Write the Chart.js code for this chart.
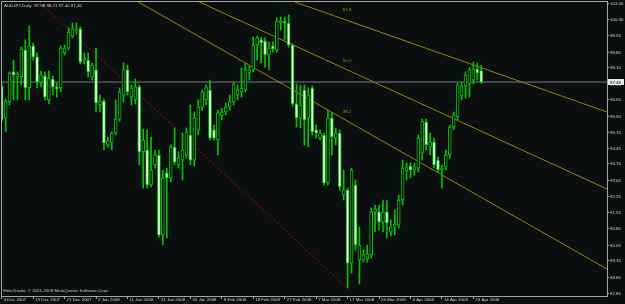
<!DOCTYPE html>
<html><head><meta charset="utf-8">
<script src="https://cdn.jsdelivr.net/npm/chart.js@4/dist/chart.umd.min.js"></script>
<style>html,body{margin:0;padding:0;background:#0b0f0f;overflow:hidden}canvas{display:block}</style>
</head><body>
<canvas id="c" width="625" height="304"></canvas>
<script>
const symbol = 'AUDJPY,Daily';
const copyright = 'MetaTrader, \u00A9 2001-2008 MetaQuotes Software Corp.';

const opens = [97.28,95.83,96.56,97.92,97.69,97.69,98.91,97.19,99.10,98.60,
97.46,97.73,96.65,97.60,97.24,97.19,98.78,99.00,99.55,99.82,
99.87,98.46,98.46,97.69,98.01,96.42,96.60,94.61,94.70,95.15,
95.78,96.87,98.01,96.78,96.65,97.24,94.29,94.38,92.79,93.70,
94.15,90.52,93.34,93.11,94.51,93.70,93.92,94.15,95.06,93.92,
95.29,96.33,96.65,97.10,95.29,94.83,95.92,96.10,96.33,96.56,
96.87,97.01,97.10,97.87,98.01,99.14,99.37,99.32,98.69,99.10,
98.91,100.14,100.23,100.14,99.14,96.47,95.83,97.10,95.83,97.19,
95.29,94.92,95.06,92.88,95.83,94.92,95.15,92.34,92.56,89.25,
92.79,89.39,89.39,89.44,89.62,91.57,91.57,91.11,91.57,90.66,
90.89,90.98,92.11,93.43,93.65,93.47,93.56,94.24,95.65,94.51,
94.74,93.92,93.47,93.61,94.15,95.42,95.88,96.83,97.28,97.37,
97.55,98.05,97.98];
const highs = [97.37,96.69,97.92,98.46,97.92,99.05,99.37,100.00,99.23,98.78,
97.96,97.92,97.96,97.73,97.42,99.10,99.14,99.91,100.14,100.14,
99.96,98.78,98.78,98.32,99.00,96.87,96.69,94.97,95.20,96.65,
97.19,98.32,98.23,97.33,97.60,97.33,95.33,95.29,94.97,94.38,
94.38,93.47,93.56,94.61,95.38,94.29,95.15,95.38,96.42,96.10,
96.65,97.10,97.33,97.55,95.51,96.19,96.28,96.51,96.87,97.46,
97.33,98.10,98.32,98.19,99.50,99.55,99.50,99.46,99.28,99.28,
100.36,100.41,100.41,100.50,99.19,97.37,97.33,97.33,97.19,97.28,
95.51,95.29,95.15,96.19,96.06,95.38,95.29,93.47,92.65,93.56,
93.02,90.89,89.84,90.07,91.75,91.88,91.88,92.11,92.11,91.20,
91.66,92.34,93.92,93.79,93.79,93.79,95.06,95.78,95.78,95.15,
94.92,94.06,93.70,94.38,95.51,96.10,97.42,97.46,97.92,98.10,
98.37,98.32,98.21];
const lows = [95.65,95.20,96.42,96.65,96.65,97.33,96.65,96.65,98.46,97.19,
97.24,96.65,96.47,96.87,96.78,97.01,98.69,98.91,99.46,99.64,
98.28,98.28,97.69,97.55,96.10,96.10,94.38,94.51,94.38,95.06,
95.69,96.56,96.87,96.42,96.47,93.70,92.65,92.65,92.70,93.56,
90.43,90.07,90.39,92.93,93.70,93.56,93.02,94.01,93.70,93.65,
95.06,96.19,96.42,94.83,94.83,94.15,95.74,95.97,96.19,96.42,
96.65,96.78,97.01,97.55,97.92,98.46,98.32,98.14,98.01,98.82,
98.82,99.82,99.37,99.05,96.37,95.42,95.38,94.61,94.51,95.06,
94.92,94.83,92.79,92.79,94.15,94.61,92.56,92.11,88.12,88.80,
89.84,88.30,89.30,89.30,89.48,90.66,90.75,90.66,90.39,90.48,
90.52,90.84,91.88,93.02,93.11,93.24,93.38,93.92,94.38,94.15,
93.56,93.38,92.65,93.47,94.01,95.29,95.74,96.65,96.74,96.78,
97.37,97.55,97.40];
const closes = [95.74,96.60,97.87,97.78,97.83,98.96,97.19,99.10,98.60,97.46,
97.78,96.78,97.64,97.24,97.15,99.00,99.00,99.73,99.87,99.87,
98.37,98.55,97.92,98.23,96.51,96.60,94.70,94.79,95.15,95.78,
97.01,98.01,97.01,97.19,97.24,94.29,94.83,92.79,93.47,94.15,
90.52,93.11,93.11,94.51,93.83,94.01,94.38,95.20,93.92,95.83,
96.33,97.01,97.24,94.92,94.92,96.06,96.10,96.33,96.56,97.37,
97.10,97.19,98.01,98.01,99.14,99.46,99.23,98.69,99.00,98.96,
100.23,100.23,100.14,99.14,96.47,95.83,96.42,95.74,96.87,95.20,
95.15,95.15,92.88,95.83,94.97,95.15,92.70,92.56,89.25,93.47,
90.07,90.07,89.62,89.66,91.57,91.70,91.11,91.57,91.07,90.89,
91.02,92.11,93.56,93.61,93.47,93.61,94.92,95.69,94.61,94.74,
93.70,93.47,93.56,94.15,95.42,95.97,97.33,97.28,97.78,98.01,
98.05,97.87,97.46];

// date labels every 8 bars
const tickLabels = ['4 Dec 2007','13 Dec 2007','21 Dec 2007','2 Jan 2008','11 Jan 2008','21 Jan 2008',
  '30 Jan 2008','8 Feb 2008','18 Feb 2008','27 Feb 2008','7 Mar 2008','17 Mar 2008','26 Mar 2008',
  '4 Apr 2008','14 Apr 2008','23 Apr 2008'];
const yTicks = [101.00,100.30,99.55,98.80,98.10,97.35,96.65,95.90,95.15,94.45,93.75,93.00,92.25,91.55,90.80,90.05,89.35,88.60,87.85];

// drawn objects, in (bar index, price)
const fib618 = [[74.6,101.09],[154.0,96.10]];
const fib500 = [[49.2,101.18],[154.0,92.61]];
const fib382 = [[33.9,101.18],[154.0,88.98]];
const fibNames = ['61.8','50.0','38.2'];
const fibLabelAt = [[86.8,100.72],[86.8,98.43],[86.8,96.10]];
const trendLine = [[8.9,101.20],[87.9,88.12]];

const BG = '#0b0f0f';
const GREEN = '#00c400';
const AXIS = '#a8a8a8';
const TXT = '#d0d0d0';
const FIB = '#8f8500';
const FONT = '"Liberation Sans", Arial, sans-serif';
const FS = 4.4;

const N = opens.length;
const lastClose = closes[N-1];
const idx = opens.map((_, i) => i);
const X_MIN = -0.18, X_MAX = 154.0;

const pts = a => a.map(p => ({x:p[0], y:p[1]}));
const lineDs = (a, color, dash, w) => ({type:'line', data: pts(a), borderColor: color, borderWidth: w || 1,
  borderDash: dash || [], pointRadius: 0, tension: 0, order: 5});

const overlay = {
  id: 'overlay',
  beforeDraw(chart) {
    const ctx = chart.ctx; ctx.save(); ctx.fillStyle = BG; ctx.fillRect(0,0,chart.width,chart.height); ctx.restore();
  },
  afterDraw(chart) {
    const {ctx, chartArea: a, scales: {x, y}} = chart;
    ctx.save();
    ctx.strokeStyle = AXIS; ctx.lineWidth = 1;
    ctx.beginPath();
    ctx.moveTo(a.left + 0.5, a.bottom); ctx.lineTo(a.left + 0.5, a.top + 0.5); ctx.lineTo(a.right, a.top + 0.5);
    ctx.stroke();
    ctx.font = FS + 'px ' + FONT;
    ctx.textBaseline = 'middle';
    // fib labels
    ctx.fillStyle = '#a09600'; ctx.textAlign = 'left';
    fibNames.forEach((t, k) => ctx.fillText(t, x.getPixelForValue(fibLabelAt[k][0]), y.getPixelForValue(fibLabelAt[k][1])));
    // title
    ctx.fillStyle = TXT;
    const f = v => v.toFixed(2);
    ctx.fillText(symbol + '  ' + [opens[N-1], highs[N-1], lows[N-1], closes[N-1]].map(f).join(' '), a.left + 3, a.top + 4.5);
    // copyright
    ctx.fillStyle = '#c0c0c0';
    ctx.fillText(copyright, a.left + 2, a.bottom - 5);
    // price box
    const py = Math.round(y.getPixelForValue(lastClose));
    ctx.fillStyle = '#e8e8e8';
    ctx.fillRect(a.right + 1, py - 3, 16, 6);
    ctx.fillStyle = '#000000';
    ctx.fillText(f(lastClose), a.right + 3, py + 0.3);
    ctx.restore();
  }
};

new Chart(document.getElementById('c'), {
  type: 'bar',
  data: {
    datasets: [
      {label: 'body', data: idx.map(i => ({x: i, y: [Math.min(opens[i], closes[i]), Math.max(opens[i], closes[i])]})),
       backgroundColor: idx.map(i => closes[i] >= opens[i] ? BG : '#eefcee'),
       borderColor: GREEN, borderWidth: 1, borderSkipped: false, minBarLength: 1,
       maxBarThickness: 3, barPercentage: 1, categoryPercentage: 1, grouped: false, order: 0},
      {label: 'wick', data: idx.map(i => ({x: i, y: [lows[i], highs[i]]})),
       backgroundColor: GREEN, borderWidth: 0, maxBarThickness: 1, barPercentage: 1, categoryPercentage: 1,
       grouped: false, order: 1},
      lineDs([[X_MIN, lastClose],[X_MAX, lastClose]], '#7a7a7a'),
      lineDs(fib618, FIB), lineDs(fib500, FIB), lineDs(fib382, FIB),
      lineDs(trendLine, '#9c0000', [1.5, 2.5], 1.2)
    ]
  },
  options: {
    responsive: false, animation: false, devicePixelRatio: 1, events: [],
    layout: {padding: {left: 1, top: 1, right: 0, bottom: 0}},
    plugins: {legend: {display: false}, tooltip: {enabled: false}},
    scales: {
      x: {type: 'linear', min: X_MIN, max: X_MAX, offset: false, bounds: 'data',
        afterBuildTicks: s => { s.ticks = tickLabels.map((_, k) => ({value: k * 8})); },
        afterFit: s => { s.height = 8; s.paddingLeft = 0; s.paddingRight = 0; },
        ticks: {autoSkip: false, maxRotation: 0, minRotation: 0, align: 'start', labelOffset: 2, padding: -2,
          color: TXT, font: {family: FONT, size: FS}, callback: (v, k) => tickLabels[k]},
        grid: {display: true, drawOnChartArea: false, drawTicks: true, tickLength: 3, color: AXIS, offset: false},
        border: {display: true, color: AXIS}
      },
      y: {type: 'linear', position: 'right', min: 87.757, max: 101.136, bounds: 'data',
        afterBuildTicks: s => { s.ticks = yTicks.map(v => ({value: v})); },
        afterFit: s => { s.width = 18; s.paddingTop = 0; s.paddingBottom = 0; },
        ticks: {autoSkip: false, padding: 1, color: TXT, font: {family: FONT, size: FS}, callback: v => v.toFixed(2)},
        grid: {display: true, drawOnChartArea: false, drawTicks: true, tickLength: 2, color: AXIS},
        border: {display: true, color: AXIS}
      }
    }
  },
  plugins: [overlay]
});
</script>
</body></html>
